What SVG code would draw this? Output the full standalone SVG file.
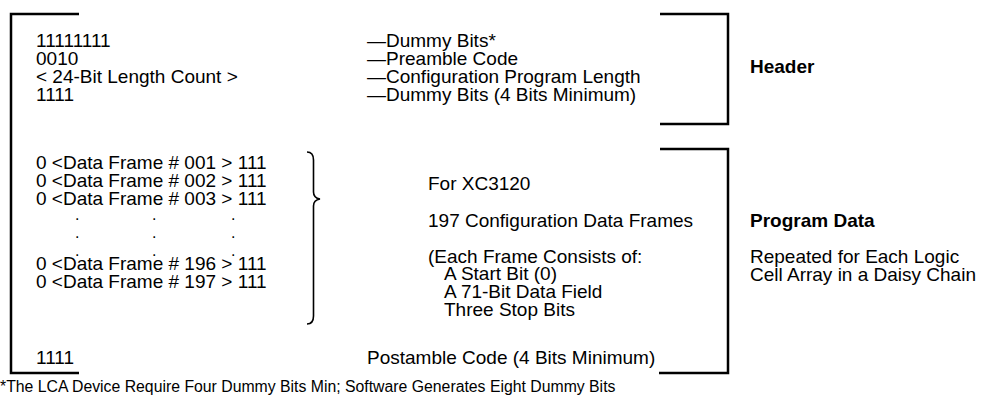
<svg xmlns="http://www.w3.org/2000/svg" width="985" height="402" viewBox="0 0 985 402">
<style>
.t{font-family:"Liberation Sans",Arial,sans-serif;font-size:19px;fill:#000}
.d{font-family:"Liberation Sans",Arial,sans-serif;font-size:16px;fill:#000}
.b{font-weight:bold}
.fn{font-family:"Liberation Sans",Arial,sans-serif;font-size:15.8px;fill:#000}
.br{fill:none;stroke:#000;stroke-width:2.5}
</style>
<rect width="985" height="402" fill="#fff"/>
<g id="brackets">
<path class="br" d="M79,14 H11 V373 H79"/>
<path class="br" d="M660,14 H728 V124 H660"/>
<path class="br" d="M660,149 H728 V373 H659"/>
<path id="brace" d="M307,152 Q313.5,152 313.5,160 L313.5,192 Q313.5,198 320,199 Q313.5,200 313.5,206 L313.5,316 Q313.5,324 307,324" fill="none" stroke="#000" stroke-width="1.6"/>
</g>
<g id="header-text">
<text class="t" x="36" y="47">11111111</text>
<text class="t" x="36" y="65">0010</text>
<text class="t" x="36" y="83">&lt; 24-Bit Length Count &gt;</text>
<text class="t" x="36" y="101">1111</text>
<text class="t" x="367" y="47">—Dummy Bits*</text>
<text class="t" x="367" y="65">—Preamble Code</text>
<text class="t" x="367" y="83">—Configuration Program Length</text>
<text class="t" x="367" y="101">—Dummy Bits (4 Bits Minimum)</text>
<text class="t b" x="750" y="73">Header</text>
</g>
<g id="data-text">
<text class="t" x="36" y="169">0 &lt;Data Frame # 001 &gt; 111</text>
<text class="t" x="36" y="187">0 &lt;Data Frame # 002 &gt; 111</text>
<text class="t" x="36" y="205">0 &lt;Data Frame # 003 &gt; 111</text>
<text class="d" x="75" y="220">.</text><text class="d" x="152" y="220">.</text><text class="d" x="231" y="220">.</text>
<text class="d" x="75" y="238">.</text><text class="d" x="152" y="238">.</text><text class="d" x="231" y="238">.</text>
<text class="d" x="75" y="256">.</text><text class="d" x="152" y="256">.</text><text class="d" x="231" y="256">.</text>
<text class="t" x="36" y="270">0 &lt;Data Frame # 196 &gt; 111</text>
<text class="t" x="36" y="288">0 &lt;Data Frame # 197 &gt; 111</text>
<text class="t" x="428" y="190">For XC3120</text>
<text class="t" x="428" y="227">197 Configuration Data Frames</text>
<text class="t" x="428" y="263">(Each Frame Consists of:</text>
<text class="t" x="444" y="280">A Start Bit (0)</text>
<text class="t" x="444" y="298">A 71-Bit Data Field</text>
<text class="t" x="444" y="316">Three Stop Bits</text>
<text class="t b" x="750" y="227">Program Data</text>
<text class="t" x="750" y="263">Repeated for Each Logic</text>
<text class="t" x="750" y="281">Cell Array in a Daisy Chain</text>
</g>
<g id="postamble">
<text class="t" x="36" y="364">1111</text>
<text class="t" x="367" y="364">Postamble Code (4 Bits Minimum)</text>
</g>
<text class="fn" x="0" y="392">*The LCA Device Require Four Dummy Bits Min; Software Generates Eight Dummy Bits</text>
</svg>
